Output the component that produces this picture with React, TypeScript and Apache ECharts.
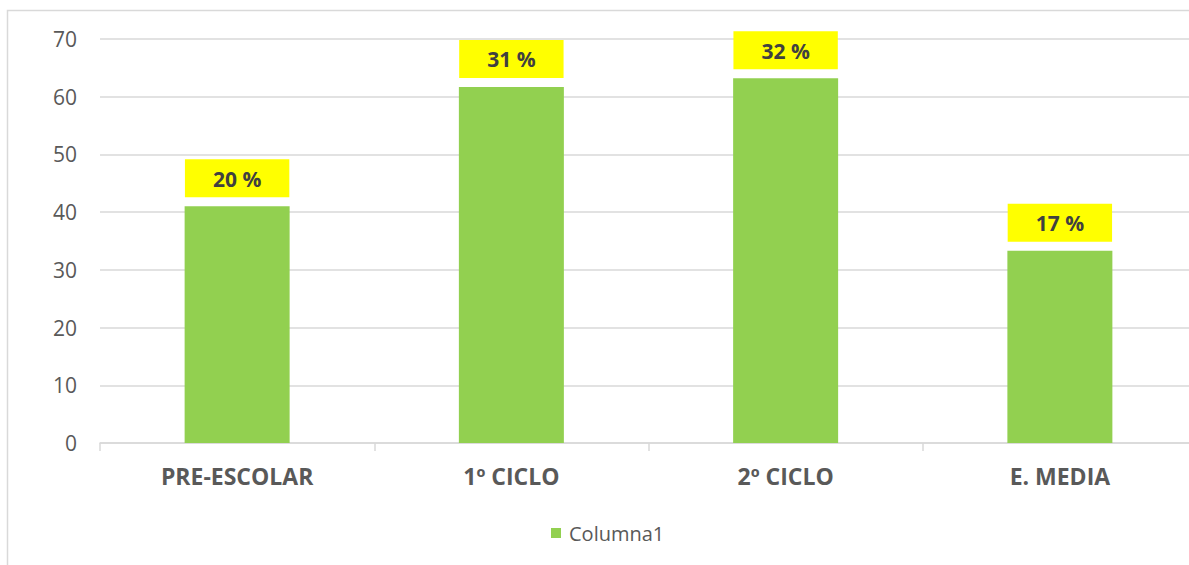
import React, { useEffect, useRef } from "react";
import * as echarts from "echarts";

const categories = ["PRE-ESCOLAR", "1º CICLO", "2º CICLO", "E. MEDIA"];
const values = [41.0, 61.7, 63.2, 33.3];
const percentLabels = ["20 %", "31 %", "32 %", "17 %"];
const seriesName = "Columna1";
const yTicks = { min: 0, max: 70, interval: 10 };

export default function App() {
  const ref = useRef<HTMLDivElement>(null);
  useEffect(() => {
    if (!ref.current) return;
    const chart = echarts.init(ref.current, undefined, { renderer: "svg" });
    const font = "'Open Sans', 'Noto Sans', sans-serif";
    chart.setOption({
      animation: false,
      backgroundColor: "#ffffff",
      textStyle: { fontFamily: font },
      graphic: [
        {
          type: "rect",
          shape: { x: 7.5, y: 10.5, width: 1400, height: 800 },
          style: { fill: "none", stroke: "#d9d9d9", lineWidth: 1.5 },
          silent: true,
          z: -1,
        },
      ],
      grid: { left: 100, right: 3, top: 39, bottom: 122, containLabel: false, outerBoundsMode: "none" },
      legend: {
        show: true,
        left: 546,
        top: 518,
        icon: "rect",
        itemWidth: 10,
        itemHeight: 10,
        itemGap: 10,
        textStyle: { fontFamily: font, fontSize: 20, color: "#595959", padding: [0, 0, 0, 3] },
        data: [seriesName],
      },
      xAxis: {
        type: "category",
        data: categories,
        axisLine: { show: true, lineStyle: { color: "#d9d9d9", width: 1.5 } },
        axisTick: { show: true, length: 8, alignWithLabel: false, lineStyle: { color: "#d9d9d9", width: 1.5 } },
        axisLabel: {
          margin: 21,
          fontFamily: font,
          fontSize: 23,
          fontWeight: "bold",
          color: "#595959",
        },
      },
      yAxis: {
        type: "value",
        min: yTicks.min,
        max: yTicks.max,
        interval: yTicks.interval,
        axisLine: { show: false },
        axisTick: { show: false },
        axisLabel: { margin: 23, fontFamily: font, fontSize: 21, color: "#595959" },
        splitLine: { show: true, lineStyle: { color: "#d9d9d9", width: 1.5 } },
      },
      series: [
        {
          name: seriesName,
          type: "bar",
          data: values,
          barWidth: 105,
          itemStyle: { color: "#92d050" },
          label: {
            show: true,
            position: "top",
            distance: 9,
            formatter: (p: any) => percentLabels[p.dataIndex],
            backgroundColor: "#ffff00",
            color: "#404040",
            fontFamily: font,
            fontWeight: "bold",
            fontSize: 21,
            padding: [9, 28, 8, 28],
          },
        },
      ],
    });
    return () => chart.dispose();
  }, []);
  return (
    <div style={{ position: "absolute", left: 0, top: 0, width: 1189, height: 565, overflow: "hidden" }}>
      <div ref={ref} style={{ width: 1200, height: 565 }} />
    </div>
  );
}
